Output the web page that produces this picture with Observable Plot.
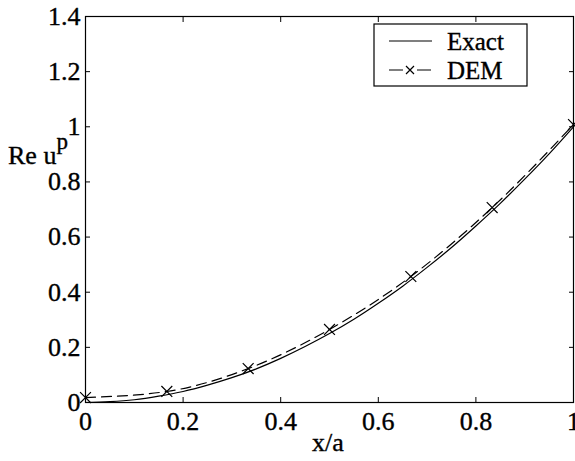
<!DOCTYPE html>
<html>
<head>
<meta charset="utf-8">
<script src="https://cdn.jsdelivr.net/npm/d3@7"></script>
<script src="https://cdn.jsdelivr.net/npm/@observablehq/plot@0.6"></script>
<style>
  html, body { margin: 0; padding: 0; background: white; }
  svg { display: block; }
</style>
</head>
<body>
<div id="chart"></div>
<script>
// Exact solution
const exactX = [0, 0.05, 0.1, 0.15, 0.2, 0.25, 0.3, 0.35, 0.4, 0.45, 0.5, 0.55, 0.6, 0.65, 0.7, 0.75, 0.8, 0.85, 0.9, 0.95, 1.0];
const exactY = [0, 0.003, 0.01, 0.023, 0.04, 0.063, 0.09, 0.122, 0.16, 0.203, 0.25, 0.302, 0.36, 0.422, 0.49, 0.562, 0.64, 0.722, 0.81, 0.902, 1.0];
// DEM result
const demX = [0, 1/6, 1/3, 1/2, 2/3, 5/6, 1];
const demY = [0.018, 0.04, 0.123, 0.265, 0.457, 0.707, 1.008];
// Ticks
const xTicks = [0, 0.2, 0.4, 0.6, 0.8, 1];
const yTicks = [0, 0.2, 0.4, 0.6, 0.8, 1, 1.2, 1.4];
const xTickLabels = ["0", "0.2", "0.4", "0.6", "0.8", "1"];
const yTickLabels = ["0", "0.2", "0.4", "0.6", "0.8", "1", "1.2", "1.4"];
const seriesNames = ["Exact", "DEM"];

const exact = exactX.map((x, i) => ({x, y: exactY[i]}));
const dem = demX.map((x, i) => ({x, y: demY[i]}));

const font = "Liberation Serif";

const plot = Plot.plot({
  width: 575,
  height: 461,
  marginLeft: 85,
  marginRight: 2,
  marginTop: 16,
  marginBottom: 59,
  x: {domain: [0, 1]},
  y: {domain: [0, 1.4]},
  style: {fontFamily: font, fontSize: "26px", background: "white", color: "black", overflow: "visible"},
  marks: [
    Plot.axisX({anchor: "bottom", ticks: xTicks, tickSize: -5, tickPadding: 14, tickFormat: d => xTickLabels[xTicks.indexOf(d)], label: null}),
    Plot.axisX({anchor: "top", ticks: xTicks, tickSize: -5, tickFormat: () => "", label: null}),
    Plot.axisY({anchor: "left", ticks: yTicks, tickSize: -5, tickPadding: 10, tickFormat: d => yTickLabels[yTicks.indexOf(d)], label: null}),
    Plot.axisY({anchor: "right", ticks: yTicks, tickSize: -5, tickFormat: () => "", label: null}),
    Plot.line(exact, {x: "x", y: "y", stroke: "black", strokeWidth: 1.2, curve: "monotone-x"}),
    Plot.line(dem, {x: "x", y: "y", stroke: "black", strokeWidth: 1.2, strokeDasharray: "10,6", curve: "monotone-x"}),
    Plot.dot(dem, {x: "x", y: "y", symbol: "times", r: 5, stroke: "black", strokeWidth: 1.2}),
    Plot.frame({stroke: "black", strokeWidth: 1.2})
  ]
});

document.getElementById("chart").appendChild(plot);

const svg = d3.select(plot);

// x-axis label
svg.append("text")
  .attr("x", 328).attr("y", 451)
  .attr("text-anchor", "middle")
  .text("x/a");

// y-axis label "Re u^p"
const yl = svg.append("text")
  .attr("x", 8).attr("y", 164)
  .attr("text-anchor", "start");
yl.append("tspan").text("Re u");
yl.append("tspan").attr("dy", -15).attr("class", "sup").text("p");

// Legend
const lg = svg.append("g");
lg.append("rect")
  .attr("x", 374).attr("y", 24).attr("width", 153).attr("height", 62)
  .attr("fill", "white").attr("stroke", "black").attr("stroke-width", 1.2);
lg.append("line").attr("x1", 389).attr("x2", 432).attr("y1", 41).attr("y2", 41)
  .attr("stroke", "black").attr("stroke-width", 1.2);
lg.append("line").attr("x1", 389).attr("x2", 432).attr("y1", 70).attr("y2", 70)
  .attr("stroke", "black").attr("stroke-width", 1.2).attr("stroke-dasharray", "14,14");
lg.append("path").attr("d", "M406,66L414,74M414,66L406,74")
  .attr("stroke", "black").attr("stroke-width", 1.2);
lg.append("text").attr("x", 447).attr("y", 50).attr("text-anchor", "start").attr("class", "leg").text(seriesNames[0]);
lg.append("text").attr("x", 447).attr("y", 79).attr("text-anchor", "start").attr("class", "leg").text(seriesNames[1]);

// Force the serif font everywhere, inline
svg.selectAll("g").attr("font-family", null).attr("font-size", null).attr("font-variant", null);
svg.selectAll("text, tspan")
  .style("font-family", "'Liberation Serif', 'Times New Roman', serif")
  .style("font-variant", "normal");
svg.selectAll("text")
  .style("font-size", "26px")
  .style("stroke", "black").style("stroke-width", "0.35px");
svg.selectAll("text.leg").style("font-size", "25px");
svg.selectAll("tspan.sup").style("font-size", "23px");
</script>
</body>
</html>
